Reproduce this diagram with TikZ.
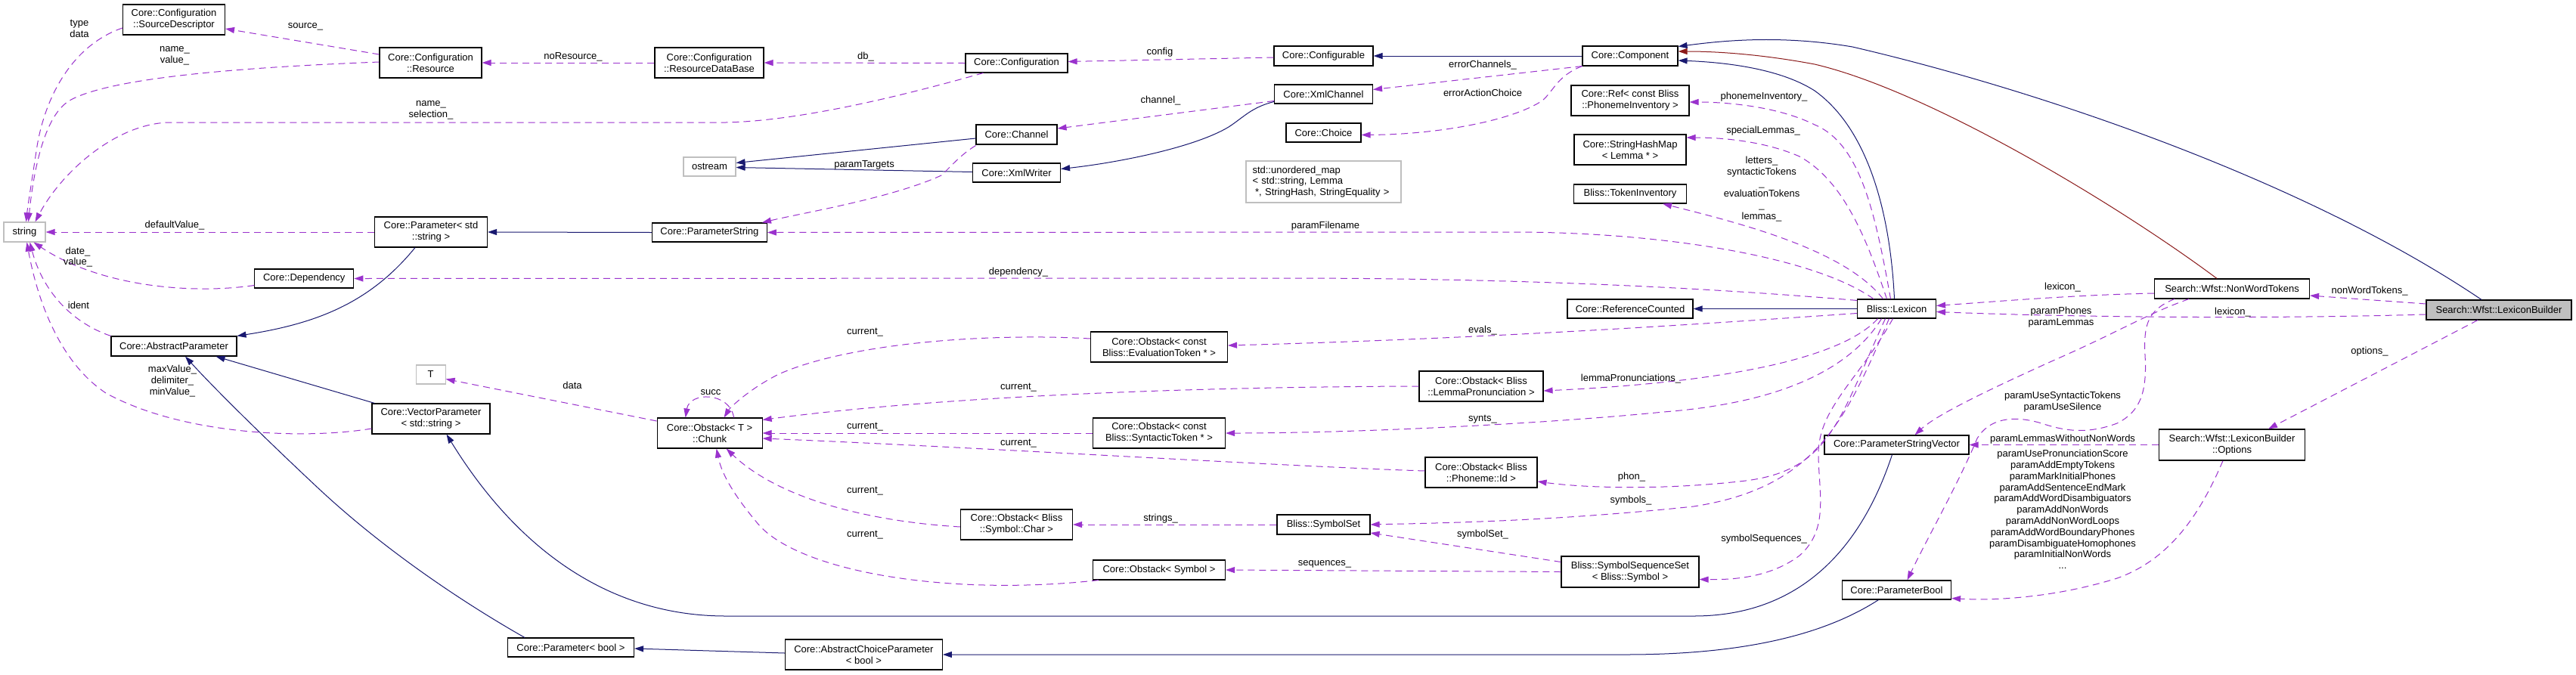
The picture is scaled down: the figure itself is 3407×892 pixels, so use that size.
\documentclass[tikz,border=0pt]{standalone}
\usepackage{fontspec}
\setmainfont{Liberation Sans}
\usetikzlibrary{arrows.meta,calc}
\definecolor{inhblue}{HTML}{191970}
\definecolor{usepurple}{HTML}{9A32CD}
\definecolor{protred}{HTML}{8B1A1A}
\definecolor{extgray}{HTML}{BFBFBF}
\newcommand{\nf}{\fontsize{13}{14.8}\selectfont}
\tikzset{
 cls/.style={draw=black, fill=white, line width=1.1pt, inner sep=0pt, align=center, font=\nf},
 ext/.style={cls, draw=extgray},
 focus/.style={cls, fill=extgray},
 lbl/.style={font=\nf, align=center, inner sep=0pt},
 arrowtip/.style={-{Triangle[length=12pt,width=8pt]}},
 inh/.style={draw=inhblue, line width=1pt, arrowtip},
 prot/.style={draw=protred, line width=1pt, arrowtip},
 use/.style={draw=usepurple, line width=1pt, dash pattern=on 9pt off 6pt, arrowtip},
}
\begin{document}
\begin{tikzpicture}[x=1pt,y=-1pt]
\fill[white] (0,0) rectangle (3407,892);
\useasboundingbox (0,0) rectangle (3407,892);
% ---------- nodes ----------
\node[ext, minimum width=55pt, minimum height=26pt] (string) at (32.5,307) {string};
\node[cls, minimum width=135pt, minimum height=40pt] (SD) at (230,26) {Core::Configuration\\::SourceDescriptor};
\node[cls, minimum width=135pt, minimum height=40pt] (Resource) at (569.5,83) {Core::Configuration\\::Resource};
\node[cls, minimum width=144pt, minimum height=40pt] (RDB) at (938,83) {Core::Configuration\\::ResourceDataBase};
\node[cls, minimum width=135pt, minimum height=25pt] (Configuration) at (1344.5,83.5) {Core::Configuration};
\node[cls, minimum width=131pt, minimum height=26pt] (Configurable) at (1750.5,74) {Core::Configurable};
\node[cls, minimum width=130pt, minimum height=25pt] (XmlChannel) at (1750.5,124.5) {Core::XmlChannel};
\node[cls, minimum width=99pt, minimum height=25pt] (Choice) at (1750.5,175.5) {Core::Choice};
\node[cls, minimum width=126pt, minimum height=26pt] (Component) at (2156,74) {Core::Component};
\node[cls, minimum width=156pt, minimum height=40pt] (Ref) at (2156,133) {Core::Ref< const Bliss\\::PhonemeInventory >};
\node[cls, minimum width=148pt, minimum height=40pt] (SHM) at (2156,198) {Core::StringHashMap\\< Lemma * >};
\node[cls, minimum width=149pt, minimum height=25pt] (TokInv) at (2156,256.5) {Bliss::TokenInventory};
\node[ext, minimum width=205pt, minimum height=55pt, text width=188pt, align=left] (umap) at (1750.5,240.5) {std::unordered\_map\\< std::string, Lemma\\\hspace*{3.6pt}*, StringHash, StringEquality >};
\node[cls, minimum width=107pt, minimum height=26pt] (Channel) at (1344.5,178) {Core::Channel};
\node[cls, minimum width=116pt, minimum height=25pt] (XmlWriter) at (1344.5,228.5) {Core::XmlWriter};
\node[ext, minimum width=69pt, minimum height=25pt] (ostream) at (938.5,220.5) {ostream};
\node[cls, minimum width=152pt, minimum height=25pt] (PS) at (938.4,307.5) {Core::ParameterString};
\node[cls, minimum width=149pt, minimum height=40pt] (PStd) at (570,307) {Core::Parameter< std\\::string >};
\node[cls, minimum width=131pt, minimum height=25pt] (Dep) at (402.3,368.5) {Core::Dependency};
\node[cls, minimum width=166pt, minimum height=26pt] (AP) at (230,458) {Core::AbstractParameter};
\node[cls, minimum width=166pt, minimum height=25pt] (RC) at (2156,408.5) {Core::ReferenceCounted};
\node[cls, minimum width=104pt, minimum height=25pt] (Lexicon) at (2508.5,408.5) {Bliss::Lexicon};
\node[cls, minimum width=205pt, minimum height=26pt] (NWT) at (2952,382) {Search::Wfst::NonWordTokens};
\node[focus, minimum width=192pt, minimum height=26pt] (LB) at (3305,410) {Search::Wfst::LexiconBuilder};
\node[cls, minimum width=181pt, minimum height=40pt] (EvalO) at (1533,459) {Core::Obstack< const\\ Bliss::EvaluationToken * >};
\node[ext, minimum width=39pt, minimum height=25pt] (T) at (569.6,495.5) {T};
\node[cls, minimum width=156pt, minimum height=40pt] (VP) at (570,554) {Core::VectorParameter\\< std::string >};
\node[cls, minimum width=139pt, minimum height=40pt] (Chunk) at (938.6,573) {Core::Obstack< T >\\::Chunk};
\node[cls, minimum width=167pt, minimum height=25pt] (PBoolT) at (755,856.5) {Core::Parameter< bool >};
\node[cls, minimum width=208pt, minimum height=40pt] (ACP) at (1142.4,866) {Core::AbstractChoiceParameter\\< bool >};
\node[cls, minimum width=175pt, minimum height=40pt] (SyntO) at (1533,573) {Core::Obstack< const\\ Bliss::SyntacticToken * >};
\node[cls, minimum width=148pt, minimum height=40pt] (CharO) at (1344.5,694) {Core::Obstack< Bliss\\::Symbol::Char >};
\node[cls, minimum width=175pt, minimum height=26pt] (SymO) at (1533,754) {Core::Obstack< Symbol >};
\node[cls, minimum width=164pt, minimum height=40pt] (LemO) at (1959,511) {Core::Obstack< Bliss\\::LemmaPronunciation >};
\node[cls, minimum width=148pt, minimum height=40pt] (PhonO) at (1959,625) {Core::Obstack< Bliss\\::Phoneme::Id >};
\node[cls, minimum width=123pt, minimum height=26pt] (SymSet) at (1750.5,694) {Bliss::SymbolSet};
\node[cls, minimum width=182pt, minimum height=41pt] (SSS) at (2156,756.5) {Bliss::SymbolSequenceSet\\< Bliss::Symbol >};
\node[cls, minimum width=191pt, minimum height=25pt] (PSV) at (2508.5,588.5) {Core::ParameterStringVector};
\node[cls, minimum width=144pt, minimum height=25pt] (PBool) at (2508.5,780.5) {Core::ParameterBool};
\node[cls, minimum width=193pt, minimum height=41pt] (Opt) at (2952,588.5) {Search::Wfst::LexiconBuilder\\::Options};
% ---------- edges: configuration / string ----------
\draw[use] ($(SD.west)+(0,11)$) .. controls (95,60) and (58,130) .. (48,200) .. controls (42,240) and (37,270) .. ($(string.north)+(2,0)$);
\node[lbl] at (105,38) {type\\data};
\draw[use] ($(Resource.west)+(0,-11)$) -- ($(SD.east)+(0,12)$);
\node[lbl] at (404,35) {source\_};
\draw[use] ($(Resource.west)+(0,-1)$) .. controls (350,88) and (150,100) .. (92,133) .. controls (60,152) and (45,220) .. ($(string.north)+(5,0)$);
\node[lbl] at (231,74) {name\_\\value\_};
\draw[use] ($(Configuration.south west)+(24,0)$) .. controls (1200,125) and (1060,160) .. (960,162) -- (222,162) .. controls (150,165) and (80,230) .. ($(string.north)+(14,0)$);
\node[lbl] at (570,146) {name\_\\selection\_};
\draw[use] (RDB.west) -- (Resource.east);
\node[lbl] at (758,75) {noResource\_};
\draw[use] (Configuration.west) -- (RDB.east);
\node[lbl] at (1145,75) {db\_};
\draw[use] ($(Configurable.west)+(0,2)$) -- ($(Configuration.east)+(0,-2)$);
\node[lbl] at (1534,69) {config};
\draw[use] ($(XmlChannel.west)+(0,9)$) -- ($(Channel.east)+(0,-8)$);
\node[lbl] at (1535,133) {channel\_};
\draw[inh] ($(XmlChannel.west)+(0,10)$) .. controls (1655,142) and (1645,155) .. (1625,168) .. controls (1580,195) and (1480,215) .. ($(XmlWriter.east)+(0,-5)$);
\draw[inh] ($(Channel.west)+(0,5)$) -- ($(ostream.east)+(0,-5)$);
\draw[inh] ($(XmlWriter.west)+(0,-1)$) -- ($(ostream.east)+(0,1)$);
\draw[use] ($(Channel.south west)+(0,1)$) .. controls (1270,205) and (1258,220) .. (1245,232) .. controls (1180,262) and (1060,282) .. ($(PS.north east)+(-7,0)$);
\node[lbl] at (1143,218) {paramTargets};
% ---------- component ----------
\draw[inh] (Component.west) -- (Configurable.east);
\draw[use] (Component.south west) -- ($(XmlChannel.east)+(0,-6)$);
\node[lbl] at (1961,86) {errorChannels\_};
\draw[use] (Component.south west) .. controls (2060,100) and (2055,120) .. (2040,133) .. controls (2000,160) and (1900,178) .. ($(Choice.east)+(0,3)$);
\node[lbl] at (1961,123) {errorActionChoice};
% ---------- parameters ----------
\draw[inh] (PS.west) -- (PStd.east);
\draw[use] (PStd.west) -- (string.east);
\node[lbl] at (231,298) {defaultValue\_};
\draw[inh] ($(PStd.south)+(-21,0)$) .. controls (490,400) and (420,428) .. (AP.north east);
\draw[use] ($(Dep.west)+(0,9)$) .. controls (250,390) and (130,378) .. ($(string.south)+(12,0)$);
\node[lbl] at (103,340) {date\_\\value\_};
\draw[use] ($(Lexicon.north west)+(0,2)$) .. controls (2250,380) and (2000,368) .. (1700,368) -- (Dep.east);
\node[lbl] at (1347,360) {dependency\_};
\draw[use] (AP.north west) .. controls (90,425) and (55,380) .. ($(string.south)+(7,0)$);
\node[lbl] at (104,404) {ident};
\draw[use] ($(VP.west)+(0,13)$) .. controls (400,582) and (240,575) .. (140,520) .. controls (80,480) and (50,400) .. ($(string.south)+(3,0)$);
\node[lbl] at (228,504) {maxValue\_\\delimiter\_\\minValue\_};
\draw[inh] ($(VP.north west)+(4,0)$) -- ($(AP.south east)+(-28,0)$);
\draw[inh] ($(PBoolT.north west)+(23,0)$) .. controls (600,790) and (500,720) .. (420,645) .. controls (340,570) and (280,510) .. ($(AP.south)+(15,0)$);
\draw[inh] ($(ACP.west)+(0,-2)$) -- ($(PBoolT.east)+(0,1.5)$);
\draw[inh] ($(PBool.south)+(-24,0)$) .. controls (2420,835) and (2320,866) .. (2150,866) -- (ACP.east);
\draw[inh] ($(PSV.south)+(-6,0)$) .. controls (2470,700) and (2400,815) .. (2240,815) -- (960,815) .. controls (800,815) and (680,720) .. ($(VP.south east)+(-58,0)$);
% ---------- obstacks ----------
\draw[use] ($(Chunk.west)+(0,-16)$) -- ($(T.east)+(0,6)$);
\node[lbl] at (757,510) {data};
\draw[use] ($(Chunk.north)+(32,0)$) .. controls (965,518) and (912,518) .. ($(Chunk.north)+(-32,0)$);
\node[lbl] at (940,519) {succ};
\draw[use] ($(EvalO.west)+(0,-11)$) .. controls (1300,440) and (1120,455) .. (1030,495) .. controls (990,515) and (965,540) .. ($(Chunk.north)+(19,0)$);
\node[lbl] at (1144,440) {current\_};
\draw[use] (LemO.west) .. controls (1500,512) and (1200,530) .. ($(Chunk.north east)+(0,3)$);
\node[lbl] at (1347,513) {current\_};
\draw[use] (SyntO.west) -- (Chunk.east);
\node[lbl] at (1144,565) {current\_};
\draw[use] ($(PhonO.west)+(0,-2)$) .. controls (1700,617) and (1300,592) .. ($(Chunk.east)+(0,7)$);
\node[lbl] at (1347,587) {current\_};
\draw[use] ($(CharO.west)+(0,3)$) .. controls (1150,690) and (1030,660) .. ($(Chunk.south)+(22,0)$);
\node[lbl] at (1144,650) {current\_};
\draw[use] ($(SymO.south west)+(8,0)$) .. controls (1250,790) and (1050,755) .. (1000,690) .. controls (975,660) and (955,630) .. ($(Chunk.south)+(9,0)$);
\node[lbl] at (1144,708) {current\_};
% ---------- lexicon ----------
\draw[use] ($(Lexicon.west)+(0,6)$) .. controls (2300,425) and (2000,447) .. ($(EvalO.east)+(0,-2)$);
\node[lbl] at (1961,437) {evals\_};
\draw[use] ($(Lexicon.south)+(-25,0)$) .. controls (2440,470) and (2300,505) .. ($(LemO.east)+(0,6)$);
\node[lbl] at (2157,501) {lemmaPronunciations\_};
\draw[use] ($(Lexicon.south)+(-20,0)$) .. controls (2440,500) and (2330,535) .. (2200,545) .. controls (2050,560) and (1800,573) .. (SyntO.east);
\node[lbl] at (1961,555) {synts\_};
\draw[use] ($(Lexicon.south)+(-15,0)$) .. controls (2430,560) and (2420,625) .. (2300,637) .. controls (2200,648) and (2100,646) .. ($(PhonO.east)+(0,12)$);
\node[lbl] at (2158,631) {phon\_};
\draw[use] ($(Lexicon.south)+(-10,0)$) .. controls (2440,560) and (2400,645) .. (2240,670) .. controls (2050,690) and (1900,692) .. (SymSet.east);
\node[lbl] at (2157,662) {symbols\_};
\draw[use] ($(Lexicon.south)+(-5,0)$) .. controls (2460,500) and (2405,540) .. (2405,600) .. controls (2405,650) and (2420,700) .. (2380,735) .. controls (2340,765) and (2290,767) .. ($(SSS.east)+(0,10)$);
\node[lbl] at (2333,713) {symbolSequences\_};
\draw[use] ($(SSS.west)+(0,-13)$) -- ($(SymSet.east)+(0,11)$);
\node[lbl] at (1961,707) {symbolSet\_};
\draw[use] (SSS.west) -- (SymO.east);
\node[lbl] at (1752,746) {sequences\_};
\draw[use] (SymSet.west) -- (CharO.east);
\node[lbl] at (1535,686) {strings\_};
\draw[use] ($(Lexicon.north west)+(22,0)$) .. controls (2400,340) and (2200,307) .. (2000,307) -- (PS.east);
\node[lbl] at (1753,299) {paramFilename};
\draw[inh] (Lexicon.west) -- (RC.east);
\draw[inh] ($(Lexicon.north)+(-3,0)$) .. controls (2500,280) and (2470,170) .. (2400,120) .. controls (2350,88) and (2270,82) .. ($(Component.east)+(0,6)$);
\draw[use] ($(Lexicon.north)+(-8,0)$) .. controls (2480,280) and (2460,190) .. (2400,165) .. controls (2350,140) and (2280,135) .. ($(Ref.east)+(0,2)$);
\node[lbl] at (2333,128) {phonemeInventory\_};
\draw[use] ($(Lexicon.north)+(-13,0)$) .. controls (2470,320) and (2440,240) .. (2380,207) .. controls (2330,185) and (2270,182) .. ($(SHM.east)+(0,-16)$);
\node[lbl] at (2332,173) {specialLemmas\_};
\draw[use] ($(Lexicon.north)+(-18,0)$) .. controls (2440,330) and (2300,295) .. ($(TokInv.south east)+(-32,0)$);
\node[lbl] at (2330,250) {letters\_\\syntacticTokens\\\_\\evaluationTokens\\\_\\lemmas\_};
% ---------- non word tokens / lexicon builder ----------
\draw[use] ($(NWT.west)+(0,6)$) .. controls (2750,390) and (2650,398) .. ($(Lexicon.east)+(0,-4)$);
\node[lbl] at (2728,380) {lexicon\_};
\draw[use] ($(LB.west)+(0,6)$) .. controls (3000,422) and (2750,420) .. ($(Lexicon.east)+(0,4)$);
\node[lbl] at (2953,413) {lexicon\_};
\draw[use] ($(LB.west)+(0,-8)$) -- ($(NWT.east)+(0,9)$);
\node[lbl] at (3134,385) {nonWordTokens\_};
\draw[inh] ($(LB.north)+(-23,0)$) .. controls (3050,240) and (2700,120) .. (2450,62) .. controls (2350,45) and (2270,55) .. ($(Component.north east)+(0,1)$);
\draw[prot] ($(NWT.north)+(-20,0)$) .. controls (2800,270) and (2550,120) .. (2400,85) .. controls (2320,70) and (2260,68) .. ($(Component.east)+(0,-6)$);
\draw[use] ($(LB.south)+(-28,0)$) -- ($(Opt.north)+(48,0)$);
\node[lbl] at (3134,465) {options\_};
\draw[use] ($(NWT.south west)+(46,0)$) .. controls (2840,415) and (2800,440) .. (2720,475) .. controls (2620,520) and (2560,550) .. ($(PSV.north)+(24,0)$);
\node[lbl] at (2726,420) {paramPhones\\paramLemmas};
\draw[use] ($(NWT.south west)+(27,0)$) .. controls (2840,410) and (2835,430) .. (2837,470) .. controls (2840,520) and (2830,545) .. (2800,560) .. controls (2760,575) and (2730,570) .. (2700,560) .. controls (2660,548) and (2630,555) .. (2615,580) .. controls (2590,640) and (2550,710) .. ($(PBool.north)+(14,0)$);
\node[lbl] at (2728,532) {paramUseSyntacticTokens\\paramUseSilence};
\draw[use] (Opt.west) -- (PSV.east);
\node[lbl] at (2728,581) {paramLemmasWithoutNonWords};
\draw[use] ($(Opt.south)+(-12,0)$) .. controls (2910,680) and (2870,740) .. (2800,765) .. controls (2720,790) and (2640,795) .. ($(PBool.east)+(0,11)$);
\node[lbl] at (2728,674) {paramUsePronunciationScore\\paramAddEmptyTokens\\paramMarkInitialPhones\\paramAddSentenceEndMark\\paramAddWordDisambiguators\\paramAddNonWords\\paramAddNonWordLoops\\paramAddWordBoundaryPhones\\paramDisambiguateHomophones\\paramInitialNonWords\\...};
\end{tikzpicture}
\end{document}
